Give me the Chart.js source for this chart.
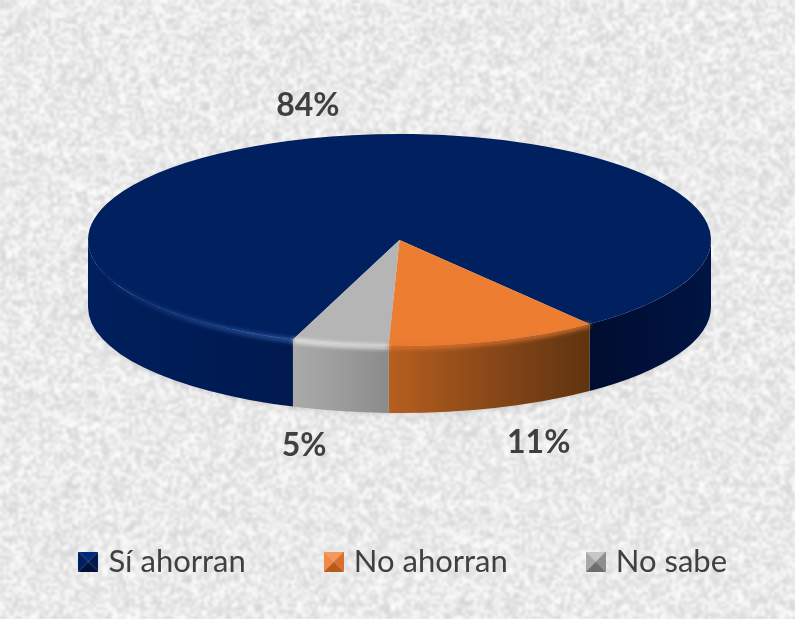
<!DOCTYPE html>
<html><head><meta charset="utf-8">
<style>html,body{margin:0;padding:0;background:#eee}#w{width:795px;height:619px}canvas{display:block}</style>
<script src="https://cdn.jsdelivr.net/npm/chart.js@4"></script></head>
<body><div id="w"><canvas id="c"></canvas></div>
<script>
const categories = ['Sí ahorran', 'No ahorran', 'No sabe'];
const shares = [84, 11, 5];
const topColors = ['#002060', '#ED7D31', '#B5B5B5'];

// Appearance of the tilted disc
const disc = {cx: 399.5, cy: 240, rx: 311.5, ry: 106, depth: 67};
const wall = [
  [['#001f5c', '#001c56', '#001a50'], ['#000d2e', '#00103a', '#001542']],
  [['#b65f1f', '#8a4818', '#5f3410']],
  [['#aaaaaa', '#9c9c9c', '#8b8b8b']]
];
const labelNudge = [[-44, -30], [44, 35], [-36, 35]];

function bg(ctx, W, H) {
  const c = document.createElement('canvas');
  const w = Math.ceil(W / 3), h = Math.ceil(H / 3);
  c.width = w; c.height = h;
  const g = c.getContext('2d'), d = g.createImageData(w, h);
  let s = 12345;
  for (let i = 0; i < w * h; i++) {
    s = (s * 1103515245 + 12345) & 0x7fffffff;
    const v = 213 + ((s >> 8) % 43);
    d.data[i*4] = d.data[i*4+1] = d.data[i*4+2] = v; d.data[i*4+3] = 255;
  }
  g.putImageData(d, 0, 0);
  ctx.fillStyle = '#efefef'; ctx.fillRect(0, 0, W, H);
  ctx.save(); ctx.imageSmoothingEnabled = true; ctx.filter = 'blur(1px)';
  ctx.drawImage(c, 0, 0, W, H); ctx.restore();
}

function frontRanges(a, b) {
  const out = [];
  for (const [lo, hi] of [[0, Math.PI], [2*Math.PI, 3*Math.PI]]) {
    const s = Math.max(a, lo), e = Math.min(b, hi);
    if (e > s) out.push([s, e]);
  }
  return out;
}
function px(a) { return disc.cx + disc.rx * Math.cos(a); }

const tilted = {
  id: 'tilted',
  afterInit(ch) {
    // keep the three legend entries on one row despite the wide gaps
    const l = ch.legend, fit = l && l._fitRows, dr = l && l._draw, extra = 200;
    if (fit) l._fitRows = function (...a) {
      const m = this.maxWidth; this.maxWidth = m + extra;
      const r = fit.apply(this, a); this.maxWidth = m; return r;
    };
    if (dr) l._draw = function () {
      const L = this.left, R = this.right;
      this.left = L - extra; this.right = R + extra;
      dr.call(this);
      this.left = L; this.right = R;
    };
  },
  beforeDraw(ch) { bg(ch.ctx, ch.width, ch.height); },
  beforeDatasetsDraw(ch) {
    const ctx = ch.ctx, arcs = ch.getDatasetMeta(0).data, {cx, cy, rx, ry, depth} = disc;
    ctx.save();
    ctx.filter = 'blur(3px)'; ctx.fillStyle = 'rgba(90,90,90,.2)';
    ctx.beginPath(); ctx.ellipse(cx, cy + depth + 1, rx - 1, ry, 0, 0, Math.PI); ctx.fill();
    ctx.restore();
    arcs.forEach((arc, i) => {
      frontRanges(arc.startAngle, arc.endAngle).forEach(([a, b]) => {
        const k = (i === 0 && a >= 2*Math.PI) ? 1 : 0;
        const xs = [px(a), px(b)], g = ctx.createLinearGradient(Math.min(...xs), 0, Math.max(...xs), 0);
        const sh = wall[i][k]; sh.forEach((col, n) => g.addColorStop(n / (sh.length - 1), col));
        ctx.fillStyle = g;
        ctx.beginPath();
        ctx.ellipse(cx, cy, rx, ry, 0, a, b);
        ctx.ellipse(cx, cy + depth, rx, ry, 0, b, a, true);
        ctx.closePath(); ctx.fill();
      });
    });
    ctx.save();
    const arc = arcs[0], r = arc.outerRadius;
    ctx.translate(cx, cy); ctx.scale(rx / r, ry / r); ctx.translate(-arc.x, -arc.y);
  },
  afterDatasetsDraw(ch) {
    const ctx = ch.ctx, arcs = ch.getDatasetMeta(0).data, {cx, cy, rx, ry, depth} = disc;
    ctx.restore();
    ctx.save();
    ctx.beginPath(); ctx.ellipse(cx, cy + 9, rx, ry, 0, 0, Math.PI);
    ctx.ellipse(cx, cy - 9, rx, ry, 0, Math.PI, 0, true); ctx.closePath(); ctx.clip();
    ctx.filter = 'blur(2px)'; ctx.lineWidth = 4;
    arcs.forEach((arc, i) => {
      frontRanges(arc.startAngle, arc.endAngle).forEach(([a, b]) => {
        const xs = [px(a), px(b)], g = ctx.createLinearGradient(Math.min(...xs), 0, Math.max(...xs), 0);
        if (i === 0 && a < 2*Math.PI) { g.addColorStop(0, 'rgba(36,80,155,0)'); g.addColorStop(.5, 'rgba(36,80,155,.7)'); g.addColorStop(1, 'rgba(50,95,170,.95)'); }
        else if (i === 0) { g.addColorStop(0, 'rgba(0,30,80,0)'); g.addColorStop(1, 'rgba(0,30,80,0)'); }
        else if (i === 1) { g.addColorStop(0, 'rgba(225,115,45,.9)'); g.addColorStop(1, 'rgba(235,125,50,.9)'); }
        else { g.addColorStop(0, 'rgba(238,238,238,1)'); g.addColorStop(1, 'rgba(232,232,232,1)'); }
        ctx.strokeStyle = g;
        ctx.beginPath(); ctx.ellipse(cx, cy, rx, ry + 1, 0, a, b); ctx.stroke();
      });
    });
    ctx.restore();
    ctx.save();
    ctx.font = 'bold 32px Lato'; ctx.fillStyle = '#404040';
    ctx.textAlign = 'center'; ctx.textBaseline = 'middle';
    arcs.forEach((arc, i) => {
      const m = (arc.startAngle + arc.endAngle) / 2;
      const sin = Math.sin(m), front = sin > 0;
      const x = cx + rx * Math.cos(m) + labelNudge[i][0];
      const y = cy + ry * sin + (front ? depth : 0) + labelNudge[i][1];
      ctx.fillText(shares[i] + '%', x, y);
    });
    ctx.restore();
  }
};

function bevel(col) {
  const c = document.createElement('canvas'); c.width = c.height = 20;
  const g = c.getContext('2d'), s = 20, m = 10;
  const tri = (pts, f) => { g.fillStyle = f; g.beginPath(); pts.forEach((p, n) => n ? g.lineTo(p[0], p[1]) : g.moveTo(p[0], p[1])); g.closePath(); g.fill(); };
  tri([[0,0],[s,0],[m,m]], col[0]);
  tri([[s,0],[s,s],[m,m]], col[1]);
  tri([[s,s],[0,s],[m,m]], col[2]);
  tri([[0,s],[0,0],[m,m]], col[3]);
  const o = document.createElement('canvas'); o.width = o.height = 20;
  const q = o.getContext('2d'); q.filter = 'blur(0.6px)'; q.drawImage(c, 0, 0);
  return o;
}
const swatches = [
  bevel(['#002a78', '#001a50', '#00123c', '#001f60']),
  bevel(['#f59a5a', '#d8702a', '#b85a1a', '#ee8a44']),
  bevel(['#c8c8c8', '#8e8e8e', '#6e6e6e', '#a8a8a8'])
];

new Chart(document.getElementById('c'), {
  type: 'pie',
  data: {labels: categories, datasets: [{data: shares, backgroundColor: topColors, borderWidth: 0}]},
  plugins: [tilted],
  options: {
    responsive: true, maintainAspectRatio: false, animation: false,
    rotation: 200,
    layout: {padding: {left: 16, right: 0, top: 0, bottom: 32}},
    plugins: {
      tooltip: {enabled: false},
      legend: {
        position: 'bottom',
        labels: {
          usePointStyle: true, pointStyleWidth: 9, boxHeight: 20, padding: 83.5,
          color: '#404040', font: {family: 'Lato', size: 31},
          generateLabels: () => categories.map((t, i) => ({text: t, fillStyle: topColors[i], strokeStyle: topColors[i], fontColor: '#404040', lineWidth: 0, pointStyle: swatches[i], index: i, hidden: false}))
        }
      }
    }
  }
});
</script></body></html>
